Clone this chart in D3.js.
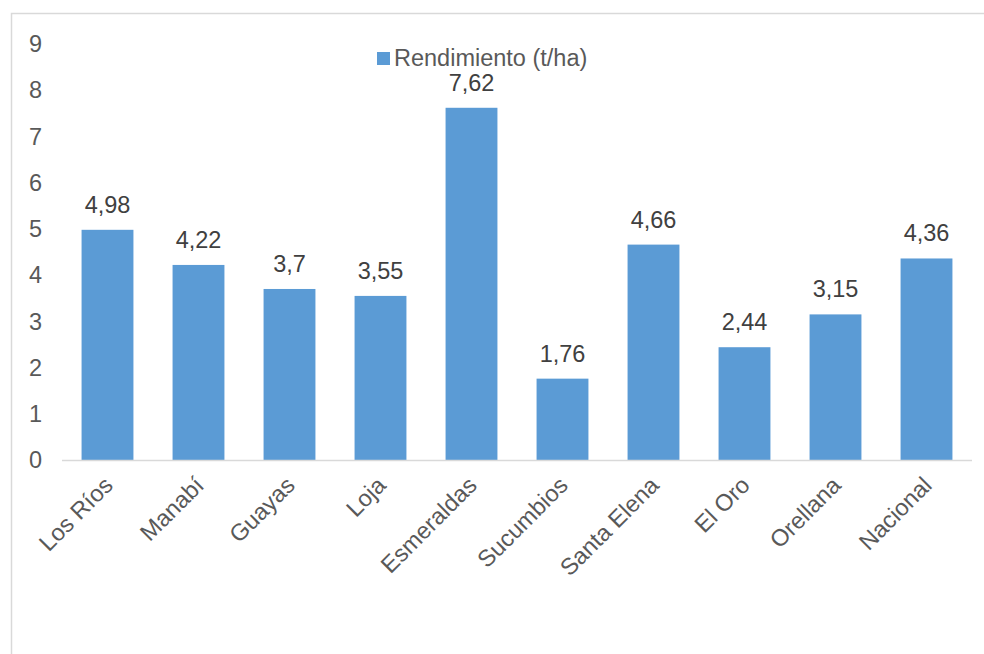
<!DOCTYPE html>
<html><head><meta charset="utf-8">
<script src="https://cdn.jsdelivr.net/npm/d3@7"></script>
<style>body{margin:0;background:#fff;}svg{display:block;font-family:"Liberation Sans",Arial,sans-serif;}</style>
</head><body>
<script>
const categories = ["Los Ríos","Manabí","Guayas","Loja","Esmeraldas","Sucumbios","Santa Elena","El Oro","Orellana","Nacional"];
const values = [4.98,4.22,3.7,3.55,7.62,1.76,4.66,2.44,3.15,4.36];
const valueLabels = ["4,98","4,22","3,7","3,55","7,62","1,76","4,66","2,44","3,15","4,36"];
const yTicks = [0,1,2,3,4,5,6,7,8,9];
const seriesName = "Rendimiento (t/ha)";

const W=984,H=654;
const svg=d3.select("body").append("svg").attr("width",W).attr("height",H);
svg.append("rect").attr("x",11.5).attr("y",13.5).attr("width",1000).attr("height",700)
  .attr("fill","none").attr("stroke","#d9d9d9").attr("stroke-width",1.5);

const x=d3.scaleBand().domain(categories).range([62,972]).paddingInner(0.43).paddingOuter(0.215);
const y=d3.scaleLinear().domain([0,9]).range([460,44]);
const FS=23.5;

// y tick labels
svg.append("g").selectAll("text").data(yTicks).join("text")
  .attr("x",42).attr("y",d=>y(d)).attr("dy","0.35em").attr("text-anchor","end")
  .attr("font-size",FS).attr("fill","#595959").text(d=>d);

// bars
svg.append("g").selectAll("rect").data(values).join("rect")
  .attr("x",(d,i)=>x(categories[i])).attr("width",x.bandwidth())
  .attr("y",d=>y(d)).attr("height",d=>y(0)-y(d)).attr("fill","#5b9bd5");

// axis line
svg.append("line").attr("x1",62).attr("x2",972).attr("y1",y(0)+0.5).attr("y2",y(0)+0.5)
  .attr("stroke","#d9d9d9").attr("stroke-width",1.5);

// value labels
svg.append("g").selectAll("text").data(values).join("text")
  .attr("x",(d,i)=>x(categories[i])+x.bandwidth()/2).attr("y",d=>y(d)-17)
  .attr("text-anchor","middle").attr("font-size",FS).attr("fill","#404040")
  .text((d,i)=>valueLabels[i]);

// x labels
svg.append("g").selectAll("text").data(categories).join("text")
  .attr("transform",d=>`translate(${x(d)+x.bandwidth()/2-5},${y(0)+15}) rotate(-45)`)
  .attr("text-anchor","end").attr("dy","0.71em").attr("font-size",FS).attr("fill","#595959").text(d=>d);

// legend
svg.append("rect").attr("x",377).attr("y",52).attr("width",13).attr("height",13).attr("fill","#5b9bd5");
svg.append("text").attr("x",394).attr("y",66).attr("font-size",FS)
  .attr("fill","#595959").text(seriesName);
</script>
</body></html>
